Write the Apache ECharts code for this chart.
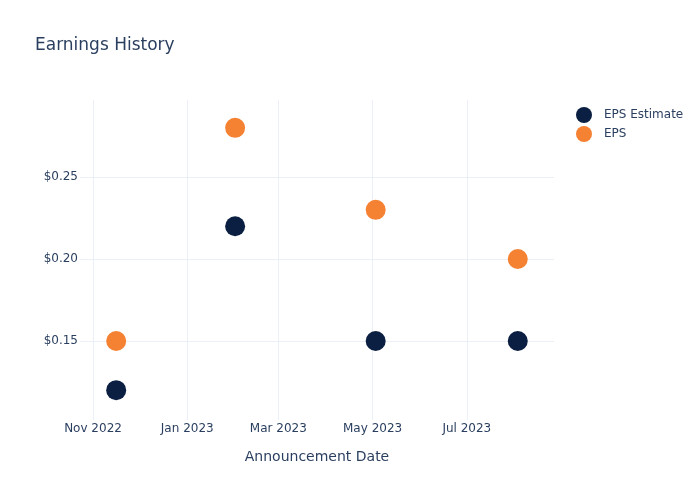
<!DOCTYPE html>
<html>
<head>
<meta charset="utf-8">
<script src="https://cdn.jsdelivr.net/npm/echarts@6/dist/echarts.min.js"></script>
<style>html,body{margin:0;padding:0;background:#fff}#c{width:700px;height:500px}</style>
</head>
<body>
<div id="c"></div>
<script>
var dates = ['2022-11-16', '2023-02-01', '2023-05-03', '2023-08-03'];
var epsEstimate = [0.12, 0.22, 0.15, 0.15];
var eps = [0.15, 0.28, 0.23, 0.20];
var xTickDates = ['2022-11-01', '2023-01-01', '2023-03-01', '2023-05-01', '2023-07-01'];
var yTicks = [0.15, 0.20, 0.25];
var monthNames = ['Jan','Feb','Mar','Apr','May','Jun','Jul','Aug','Sep','Oct','Nov','Dec'];

function ts(s) { return new Date(s + 'T00:00:00Z').getTime(); }
var xTickVals = xTickDates.map(ts);
var txt = '#2a3f5f';
var font = '"DejaVu Sans", sans-serif';

var chart = echarts.init(document.getElementById('c'), null, {renderer: 'canvas'});
chart.setOption({
  animation: false,
  backgroundColor: '#fff',
  textStyle: {fontFamily: font},
  title: {
    text: 'Earnings History', left: 30, top: 32,
    textStyle: {fontSize: 17, fontWeight: 'normal', color: txt, fontFamily: font}
  },
  legend: {
    orient: 'vertical', left: 571, top: 102, itemGap: 3,
    itemWidth: 30, itemHeight: 16, icon: 'circle',
    textStyle: {fontSize: 12, color: txt, fontFamily: font}
  },
  grid: {left: 80, right: 146, top: 100, bottom: 80, containLabel: false},
  xAxis: {
    type: 'value',
    min: ts('2022-10-23') + 0.57 * 86400000,
    max: ts('2023-08-26') + 0.45 * 86400000,
    name: 'Announcement Date', nameLocation: 'middle', nameGap: 30,
    nameTextStyle: {fontSize: 14, color: txt, fontFamily: font},
    axisLine: {show: false},
    axisTick: {show: false, customValues: xTickVals},
    axisLabel: {
      customValues: xTickVals, fontSize: 12, color: txt, margin: 3, fontFamily: font,
      formatter: function (v) { var d = new Date(v); return monthNames[d.getUTCMonth()] + ' ' + d.getUTCFullYear(); }
    },
    splitLine: {show: true, lineStyle: {color: '#ebf0f8', width: 1}}
  },
  yAxis: {
    type: 'value', min: 0.1018, max: 0.297,
    axisLine: {show: false},
    axisTick: {show: false, customValues: yTicks},
    axisLabel: {
      customValues: yTicks, fontSize: 12, color: txt, margin: 2, fontFamily: font,
      formatter: function (v) { return '$' + v.toFixed(2); }
    },
    splitLine: {show: true, lineStyle: {color: '#ebf0f8', width: 1}}
  },
  series: [
    {
      name: 'EPS Estimate', type: 'scatter', symbolSize: 20,
      itemStyle: {color: '#0b1f42', opacity: 1},
      data: dates.map(function (d, i) { return [ts(d), epsEstimate[i]]; })
    },
    {
      name: 'EPS', type: 'scatter', symbolSize: 20,
      itemStyle: {color: '#f58233', opacity: 1},
      data: dates.map(function (d, i) { return [ts(d), eps[i]]; })
    }
  ]
});
</script>
</body>
</html>
